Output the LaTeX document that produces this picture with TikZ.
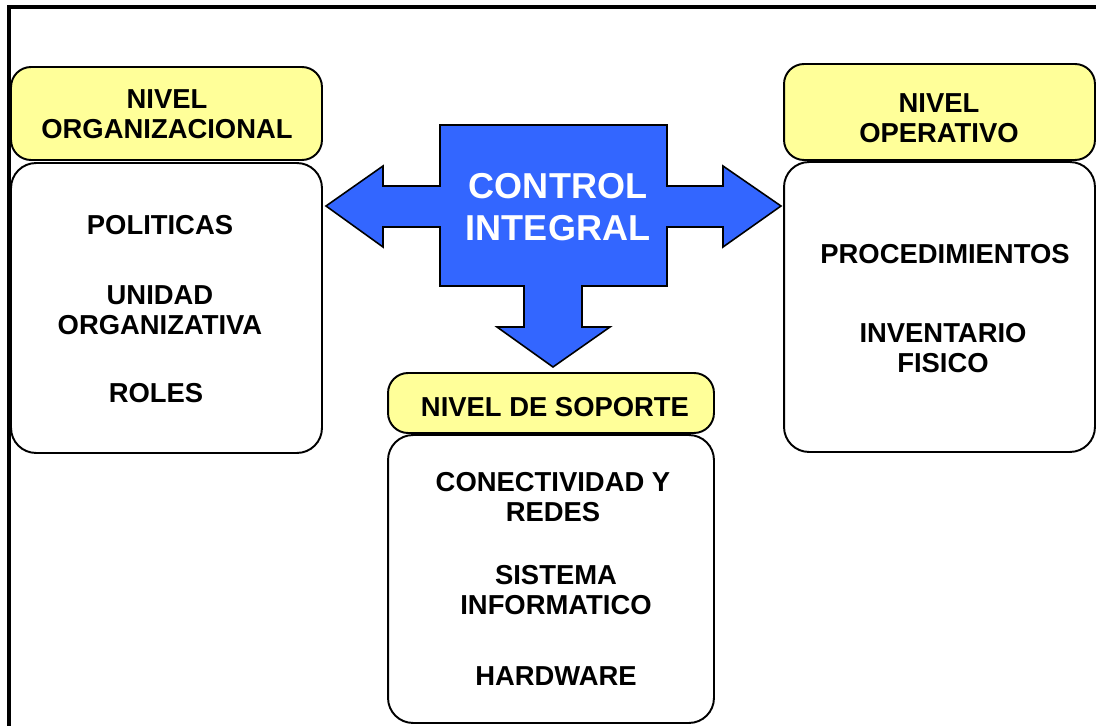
\documentclass[tikz,border=0pt]{standalone}
\usepackage{fontspec}
\setmainfont{Liberation Sans}
\usepackage{tikz}

\definecolor{amarillo}{RGB}{255,255,153}
\definecolor{azul}{RGB}{51,102,255}

\tikzset{
  ybox/.style={draw, line width=1.1pt, rounded corners=0.4cm, fill=amarillo},
  wbox/.style={draw, line width=1.1pt, rounded corners=0.5cm, fill=white},
  item/.style={align=center, font=\fontsize{15.6}{17}\selectfont\bfseries}
}

\begin{document}
\begin{tikzpicture}[x=0.02cm, y=-0.02cm]
        \useasboundingbox (0,0) rectangle (1096,726);
        % Marco
        \draw[line width=2pt] (9,726) -- (9,7) -- (1096,7);

        % Nivel organizacional
        \node[ybox, minimum width=6.22cm, minimum height=1.86cm] (orgHead) at (166.5,113.5) {};
        \node[item] (orgTitle) at (167,114) {NIVEL\\ORGANIZACIONAL};
        \node[wbox, minimum width=6.22cm, minimum height=5.8cm] (orgBody) at (166.5,308) {};
        \node[item] (politicas) at (160,225) {POLITICAS};
        \node[item] (unidad) at (160,310) {UNIDAD\\ORGANIZATIVA};
        \node[item] (roles) at (156,393) {ROLES};

        % Nivel operativo
        \node[ybox, minimum width=6.22cm, minimum height=1.92cm] (opHead) at (939.5,112) {};
        \node[item] (opTitle) at (939,118) {NIVEL\\OPERATIVO};
        \node[wbox, minimum width=6.22cm, minimum height=5.8cm] (opBody) at (939.5,307) {};
        \node[item] (procedimientos) at (945,254) {PROCEDIMIENTOS};
        \node[item] (inventario) at (943,348) {INVENTARIO\\FISICO};

        % Nivel de soporte
        \node[ybox, minimum width=6.52cm, minimum height=1.2cm] (sopHead) at (551,403) {};
        \node[item] (sopTitle) at (555,407) {NIVEL DE SOPORTE};
        \node[wbox, minimum width=6.52cm, minimum height=5.76cm] (sopBody) at (551,579) {};
        \node[item] (conectividad) at (553,497) {CONECTIVIDAD Y\\REDES};
        \node[item] (sistema) at (556,590) {SISTEMA\\INFORMATICO};
        \node[item] (hardware) at (556,676) {HARDWARE};

        % Flecha central de tres puntas
        \draw[line width=0.9pt, fill=azul] (440,125) -- (667,125) -- (667,186) -- (723,186) -- (723,166)
          -- (781,206) -- (723,247) -- (723,227) -- (667,227) -- (667,286) -- (582,286) -- (582,327)
          -- (610,327) -- (553,367) -- (497,327) -- (524,327) -- (524,286) -- (440,286) -- (440,227)
          -- (383,227) -- (383,247) -- (326,206) -- (383,166) -- (383,186) -- (440,186) -- cycle;
        \node[align=center, text=white, font=\fontsize{20.5}{24}\selectfont\bfseries] (control) at (558,207) {CONTROL\\INTEGRAL};
\end{tikzpicture}
\end{document}
